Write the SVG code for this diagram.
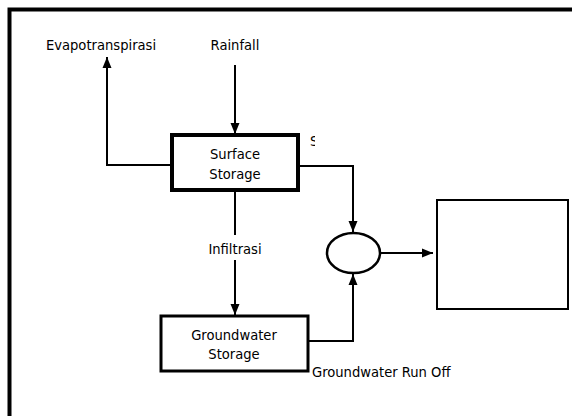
<svg xmlns="http://www.w3.org/2000/svg" width="572" height="416" viewBox="0 0 572 416">
<style>
  text { font-family: "DejaVu Sans Condensed", "DejaVu Sans", sans-serif; font-stretch: condensed; font-size: 14.6px; fill: #000; }
  .c { text-anchor: middle; }
  .conn { fill: none; stroke: #000; stroke-width: 2; }
  .box { fill: #fff; stroke: #000; }
</style>
<defs>
  <marker id="ah" markerUnits="userSpaceOnUse" markerWidth="12" markerHeight="12" viewBox="0 0 12 12" refX="11" refY="6" orient="auto">
    <path d="M0,1.5 L11,6 L0,10.5 Z" fill="#000"/>
  </marker>
  <clipPath id="sclip"><rect x="300" y="130" width="15" height="20"/></clipPath>
</defs>
<rect width="572" height="416" fill="#fff"/>
<rect id="frame" x="9.5" y="9.5" width="580" height="420" fill="none" stroke="#000" stroke-width="4"/>

<g id="connectors">
  <path class="conn" d="M235,65 V134" marker-end="url(#ah)"/>
  <path class="conn" d="M172,165 H107 V57" marker-end="url(#ah)"/>
  <path class="conn" d="M298,166 H353 V232" marker-end="url(#ah)"/>
  <path class="conn" d="M380,253 H433" marker-end="url(#ah)"/>
  <path class="conn" d="M235,191 V235"/>
  <path class="conn" d="M235,260 V315" marker-end="url(#ah)"/>
  <path class="conn" d="M308,341 H353 V274" marker-end="url(#ah)"/>
</g>

<g id="evapotranspirasi"><text class="c" x="101" y="50">Evapotranspirasi</text></g>
<g id="rainfall"><text class="c" x="235" y="50">Rainfall</text></g>

<g id="surface-storage">
  <rect class="box" x="172" y="135" width="126" height="55" stroke-width="4"/>
  <text class="c" x="235" y="159">Surface</text>
  <text class="c" x="235" y="179">Storage</text>
</g>
<g id="s-label"><text x="310" y="146" clip-path="url(#sclip)">S</text></g>

<g id="infiltrasi"><text class="c" x="235" y="254">Infiltrasi</text></g>

<g id="sum-node">
  <ellipse cx="353.5" cy="253" rx="26.5" ry="20" fill="#fff" stroke="#000" stroke-width="2.5"/>
</g>

<g id="output-box">
  <rect class="box" x="437" y="200" width="131" height="109" stroke-width="2"/>
</g>

<g id="groundwater-storage">
  <rect class="box" x="161" y="316" width="147" height="55" stroke-width="3"/>
  <text class="c" x="234" y="340">Groundwater</text>
  <text class="c" x="234" y="359">Storage</text>
</g>
<g id="gw-runoff"><text x="312" y="377">Groundwater Run Off</text></g>
</svg>
